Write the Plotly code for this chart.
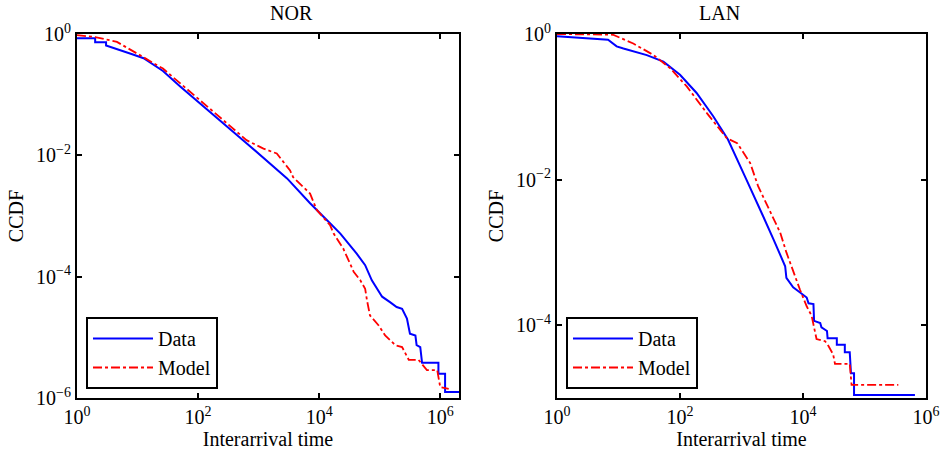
import plotly.graph_objects as go
from plotly.subplots import make_subplots

# NOR data (log10 x, log10 y)
nor_data_lx = [0, 0.3, 0.3, 0.48, 0.48, 0.7, 0.9, 1.1, 1.42, 1.7, 2.2, 2.8, 3.47, 3.85, 4.18, 4.35, 4.62, 4.76, 4.87, 5.04, 5.17, 5.28, 5.37, 5.45, 5.5, 5.59, 5.61, 5.67, 5.70, 5.97, 5.97, 6.08, 6.08, 6.31]
nor_data_ly = [-0.07, -0.07, -0.137, -0.137, -0.19, -0.26, -0.33, -0.40, -0.61, -0.86, -1.28, -1.8, -2.38, -2.79, -3.12, -3.29, -3.62, -3.81, -4.06, -4.33, -4.42, -4.5, -4.53, -4.69, -4.94, -4.97, -5.13, -5.16, -5.42, -5.42, -5.6, -5.6, -5.9, -5.9]
nor_model_lx = [0, 0.3, 0.66, 1.0, 1.42, 2.03, 2.36, 2.8, 3.08, 3.3, 3.52, 3.57, 3.85, 3.96, 4.18, 4.24, 4.40, 4.57, 4.68, 4.76, 4.79, 4.84, 4.98, 5.09, 5.26, 5.37, 5.48, 5.64, 5.78, 5.95, 6.0, 6.14]
nor_model_ly = [-0.02, -0.05, -0.13, -0.33, -0.57, -1.09, -1.37, -1.75, -1.89, -1.97, -2.25, -2.36, -2.63, -2.9, -3.15, -3.29, -3.54, -3.92, -4.06, -4.2, -4.39, -4.64, -4.8, -4.97, -5.13, -5.16, -5.37, -5.37, -5.54, -5.54, -5.82, -5.85]

# LAN data (log10 x, log10 y)
lan_data_lx = [0, 0.33, 0.83, 0.97, 1.08, 1.46, 1.73, 2.0, 2.27, 2.54, 2.78, 3.08, 3.22, 3.35, 3.52, 3.63, 3.71, 3.73, 3.84, 3.92, 4.0, 4.06, 4.09, 4.17, 4.18, 4.28, 4.30, 4.39, 4.40, 4.55, 4.55, 4.68, 4.68, 4.76, 4.78, 4.83, 4.83, 5.82]
lan_data_ly = [-0.03, -0.05, -0.08, -0.17, -0.2, -0.29, -0.38, -0.56, -0.81, -1.13, -1.45, -2.0, -2.27, -2.5, -2.82, -3.05, -3.19, -3.35, -3.48, -3.53, -3.58, -3.62, -3.70, -3.71, -3.94, -3.97, -4.03, -4.08, -4.18, -4.18, -4.27, -4.27, -4.37, -4.37, -4.66, -4.66, -4.96, -4.96]
lan_model_lx = [0, 0.59, 0.91, 1.24, 1.57, 1.84, 2.11, 2.44, 2.76, 2.93, 3.14, 3.27, 3.41, 3.63, 3.73, 3.84, 3.95, 4.06, 4.14, 4.22, 4.36, 4.41, 4.49, 4.52, 4.76, 4.79, 5.55]
lan_model_ly = [0, 0, -0.01, -0.13, -0.29, -0.47, -0.72, -1.09, -1.43, -1.5, -1.77, -2.09, -2.34, -2.73, -3.0, -3.26, -3.51, -3.74, -3.87, -4.19, -4.22, -4.28, -4.40, -4.53, -4.53, -4.82, -4.82]

titles = ["NOR", "LAN"]
x_tick_exps = [0, 2, 4, 6]
nor_y_tick_exps = [0, -2, -4, -6]
lan_y_tick_exps = [0, -2, -4]

def p10(v):
    return [10 ** a for a in v]

def lab(e):
    s = str(e).replace("-", "\u2212")
    return "10<sup>" + s + "</sup>"

FONT = "Liberation Serif"
BLUE = "#0000ff"
RED = "#ff0000"
W, H = 943, 456
TOP, BOT = 34, 398
PH = BOT - TOP

fig = make_subplots(rows=1, cols=2)

fig.add_trace(go.Scatter(x=p10(nor_data_lx), y=p10(nor_data_ly), mode="lines", name="Data",
                         line=dict(color=BLUE, width=2), legend="legend"), row=1, col=1)
fig.add_trace(go.Scatter(x=p10(nor_model_lx), y=p10(nor_model_ly), mode="lines", name="Model",
                         line=dict(color=RED, width=1.8, dash="dashdot"), legend="legend"), row=1, col=1)
fig.add_trace(go.Scatter(x=p10(lan_data_lx), y=p10(lan_data_ly), mode="lines", name="Data",
                         line=dict(color=BLUE, width=2), legend="legend2"), row=1, col=2)
fig.add_trace(go.Scatter(x=p10(lan_model_lx), y=p10(lan_model_ly), mode="lines", name="Model",
                         line=dict(color=RED, width=1.8, dash="dashdot"), legend="legend2"), row=1, col=2)

axis_common = dict(type="log", showgrid=False, zeroline=False, showline=True, linecolor="black",
                   linewidth=2, mirror="allticks", ticks="inside", ticklen=5, tickwidth=1.5,
                   tickcolor="black", automargin=False,
                   tickfont=dict(family=FONT, size=20, color="black"))

fig.update_xaxes(axis_common)
fig.update_yaxes(axis_common)

tfont = dict(family=FONT, size=20, color="black")
fig.update_xaxes(row=1, col=1, domain=[77 / W, 459 / W], range=[0, 6.31],
                 tickvals=p10(x_tick_exps), ticktext=[lab(e) for e in x_tick_exps],
                 title=dict(text="Interarrival time", font=tfont, standoff=5))
fig.update_xaxes(row=1, col=2, domain=[557 / W, 926 / W], range=[0, 6],
                 tickvals=p10(x_tick_exps), ticktext=[lab(e) for e in x_tick_exps],
                 title=dict(text="Interarrival time", font=tfont, standoff=5))
fig.update_yaxes(row=1, col=1, range=[-6, 0],
                 tickvals=p10(nor_y_tick_exps), ticktext=[lab(e) for e in nor_y_tick_exps],
                 title=dict(text="CCDF", font=tfont, standoff=7))
fig.update_yaxes(row=1, col=2, range=[-5, 0],
                 tickvals=p10(lan_y_tick_exps), ticktext=[lab(e) for e in lan_y_tick_exps],
                 title=dict(text="CCDF", font=tfont, standoff=7))

legend_common = dict(bgcolor="white", bordercolor="black", borderwidth=2,
                     font=dict(family=FONT, size=20, color="black"),
                     xanchor="left", yanchor="bottom", tracegroupgap=0, itemwidth=60)

fig.update_layout(
    width=W, height=H,
    margin=dict(l=0, r=0, t=TOP, b=H - BOT),
    paper_bgcolor="white", plot_bgcolor="white",
    font=dict(family=FONT, color="black"),
    showlegend=True,
    legend=dict(legend_common, x=86 / W, y=(BOT - 389) / PH),
    legend2=dict(legend_common, x=566 / W, y=(BOT - 389) / PH),
    annotations=[
        dict(text=titles[0], x=(77 + 459) / 2 / W, y=1 + (TOP - 13) / PH, xref="paper", yref="paper",
             yanchor="middle", showarrow=False, font=tfont),
        dict(text=titles[1], x=(557 + 926) / 2 / W, y=1 + (TOP - 13) / PH, xref="paper", yref="paper",
             yanchor="middle", showarrow=False, font=tfont),
    ],
)

fig.write_html("out.html")
